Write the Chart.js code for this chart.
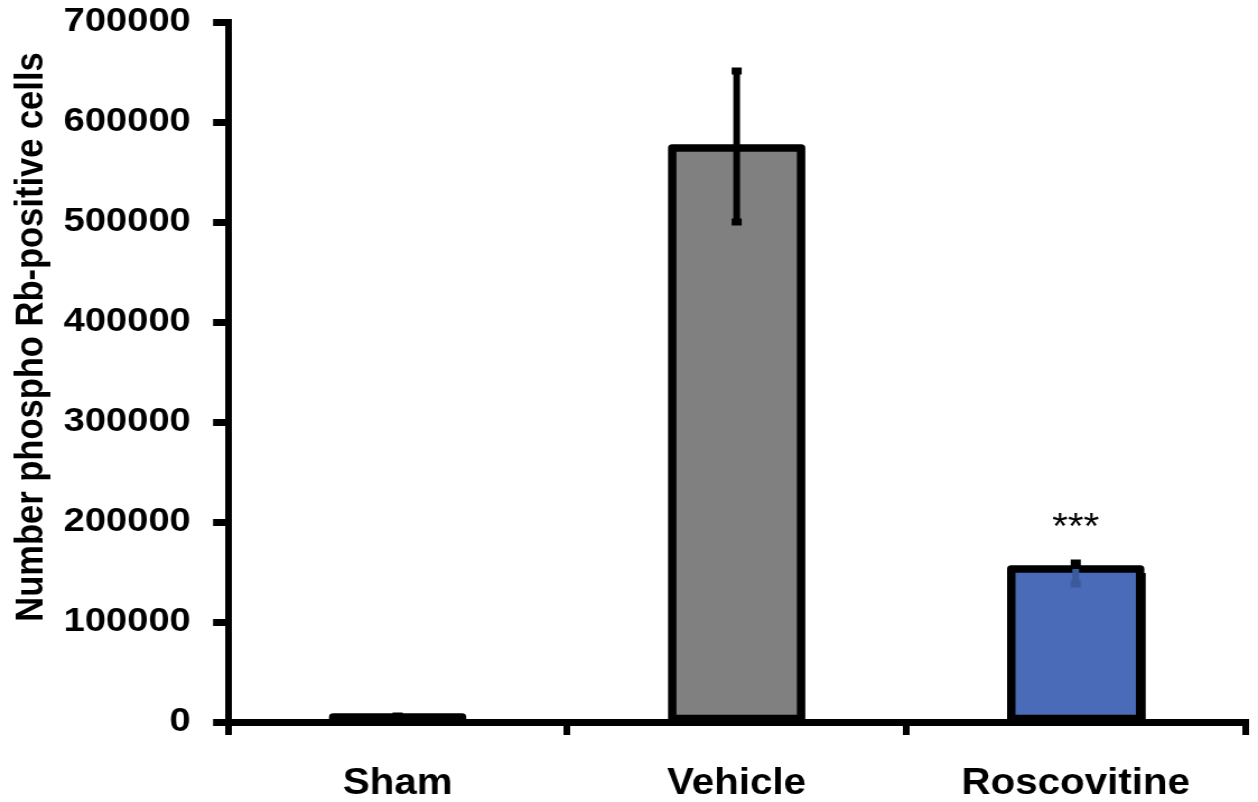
<!DOCTYPE html>
<html>
<head>
<meta charset="utf-8">
<script src="https://cdn.jsdelivr.net/npm/chart.js@4/dist/chart.umd.min.js"></script>
<style>
  html, body { margin: 0; padding: 0; background: #ffffff; overflow: hidden; }
  #wrap { width: 1123px; height: 802px; transform: scaleX(1.12022); transform-origin: 0 0; }
</style>
</head>
<body>
<div id="wrap"><canvas id="chart" width="1123" height="802"></canvas></div>
<script>
// Treatment groups and measured counts
const categories = ['Sham', 'Vehicle', 'Roscovitine'];
const meanCells = [5000, 574000, 153000];
const errUp = [1000, 77000, 6000];
const errDown = [1000, 74000, 15000];
const significance = ['', '', '***'];

// Value axis
const yMin = 0;
const yMax = 700000;
const yStep = 100000;
const yTitle = 'Number phospho Rb-positive cells';

// Styling
const barFills = ['#ffffff', '#808080', '#4a6bb7'];
const barShadow = [false, false, true];
const lowerArmColors = ['#000000', '#000000', '#3a5a9c'];
const FONT = "'Liberation Sans', Arial, sans-serif";

// Black outlines (and optional drop shadow) around each bar
const barOutline = {
  id: 'barOutline',
  beforeDatasetsDraw(chart) {
    const ctx = chart.ctx;
    const meta = chart.getDatasetMeta(0);
    ctx.save();
    ctx.fillStyle = '#000000';
    meta.data.forEach((bar, i) => {
      if (!barShadow[i]) return;
      const left = bar.x - bar.width / 2;
      ctx.fillRect(left + 5, bar.y + 4, bar.width, bar.base - bar.y);
    });
    ctx.restore();
  },
  afterDatasetsDraw(chart) {
    const ctx = chart.ctx;
    const meta = chart.getDatasetMeta(0);
    ctx.save();
    ctx.strokeStyle = '#000000';
    ctx.lineWidth = 7.5;
    ctx.lineJoin = 'round';
    meta.data.forEach((bar) => {
      const left = bar.x - bar.width / 2;
      ctx.strokeRect(left, bar.y, bar.width, bar.base - bar.y);
    });
    ctx.restore();
  }
};

// Error bars with square caps, plus significance marks above them
const errorBars = {
  id: 'errorBars',
  afterDatasetsDraw(chart) {
    const ctx = chart.ctx;
    const y = chart.scales.y;
    const meta = chart.getDatasetMeta(0);
    ctx.save();
    meta.data.forEach((bar, i) => {
      const x = bar.x;
      const yMean = y.getPixelForValue(meanCells[i]);
      const yTop = y.getPixelForValue(meanCells[i] + errUp[i]);
      const yBot = y.getPixelForValue(meanCells[i] - errDown[i]);
      ctx.fillStyle = '#000000';
      ctx.fillRect(x - 3, yTop, 6, yMean - yTop);
      ctx.fillRect(x - 4.5, yTop - 3.5, 9, 7);
      ctx.fillStyle = lowerArmColors[i];
      ctx.fillRect(x - 3, yMean, 6, yBot - yMean);
      ctx.fillRect(x - 4.5, yBot - 3.5, 9, 7);
      if (significance[i]) {
        ctx.fillStyle = '#000000';
        ctx.font = '36px ' + FONT;
        ctx.textAlign = 'center';
        ctx.textBaseline = 'alphabetic';
        ctx.fillText(significance[i], x, yTop - 24);
      }
    });
    ctx.restore();
  }
};

// Rotated value-axis title
const axisTitle = {
  id: 'axisTitle',
  afterDraw(chart) {
    const ctx = chart.ctx;
    ctx.save();
    ctx.translate(38, 337);
    ctx.rotate(-Math.PI / 2);
    ctx.fillStyle = '#000000';
    ctx.font = 'bold 34.5px ' + FONT;
    ctx.textAlign = 'center';
    ctx.textBaseline = 'alphabetic';
    ctx.fillText(yTitle, 0, 0);
    ctx.restore();
  }
};

new Chart(document.getElementById('chart'), {
  type: 'bar',
  data: {
    labels: categories,
    datasets: [{
      data: meanCells,
      backgroundColor: barFills,
      borderWidth: 0,
      categoryPercentage: 1,
      barPercentage: 0.38
    }]
  },
  options: {
    responsive: false,
    animation: false,
    events: [],
    layout: { padding: { top: 22, right: 11.4, left: 0, bottom: 0 } },
    plugins: {
      legend: { display: false },
      tooltip: { enabled: false }
    },
    scales: {
      x: {
        type: 'category',
        offset: true,
        afterFit(scale) {
          scale.height = 80;
          scale.paddingLeft = 0;
          scale.paddingRight = 0;
        },
        grid: {
          offset: true,
          drawOnChartArea: false,
          drawTicks: true,
          tickLength: 13,
          lineWidth: 6,
          color: '#000000'
        },
        border: { display: true, width: 7, color: '#000000' },
        ticks: {
          color: '#000000',
          font: { family: FONT, size: 36, weight: 'bold' },
          padding: 27,
          maxRotation: 0
        }
      },
      y: {
        min: yMin,
        max: yMax,
        afterFit(scale) {
          scale.width = 203.6;
          scale.paddingTop = 0;
          scale.paddingBottom = 0;
        },
        grid: {
          drawOnChartArea: false,
          drawTicks: true,
          tickLength: 13.4,
          lineWidth: 7,
          color: '#000000'
        },
        border: { display: true, width: 6, color: '#000000' },
        ticks: {
          stepSize: yStep,
          color: '#000000',
          font: { family: FONT, size: 34, weight: 'bold' },
          padding: 20,
          callback: (v) => String(v)
        }
      }
    }
  },
  plugins: [barOutline, errorBars, axisTitle]
});
</script>
</body>
</html>
